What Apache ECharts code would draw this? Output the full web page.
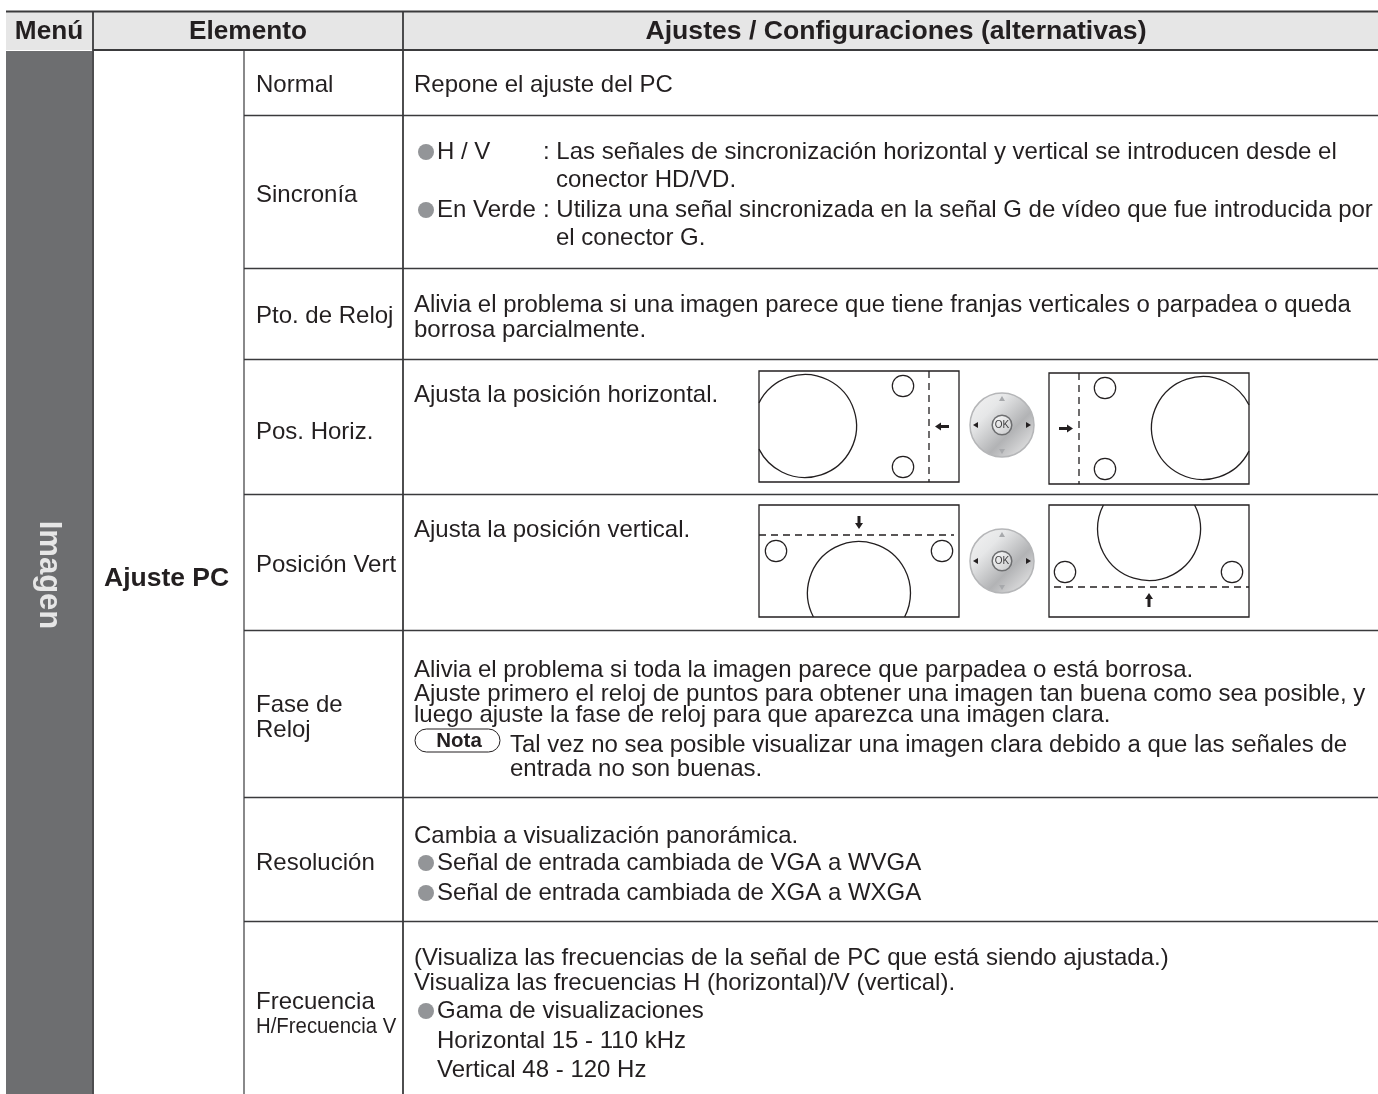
<!DOCTYPE html>
<html><head><meta charset="utf-8">
<style>html,body{margin:0;padding:0;background:#fff}#c{width:1378px;height:1094px}</style>
<script src="https://cdn.jsdelivr.net/npm/echarts@6/dist/echarts.min.js"></script>
</head><body><div id="c"></div>
<script>
const headerLabels = ['Menú', 'Elemento', 'Ajustes / Configuraciones (alternativas)'];
const menuLabel = 'Imagen';
const groupLabel = 'Ajuste PC';
const rowLabels = ['Normal','Sincronía','Pto. de Reloj','Pos. Horiz.','Posición Vert','Fase de','Reloj','Resolución','Frecuencia','H/Frecuencia V'];
const normalText = ['Repone el ajuste del PC'];
const syncText = ['H / V',': Las señales de sincronización horizontal y vertical se introducen desde el','conector HD/VD.','En Verde',': Utiliza una señal sincronizada en la señal G de vídeo que fue introducida por','el conector G.'];
const clockText = ['Alivia el problema si una imagen parece que tiene franjas verticales o parpadea o queda','borrosa parcialmente.'];
const horizText = ['Ajusta la posición horizontal.'];
const vertText = ['Ajusta la posición vertical.'];
const phaseText = ['Alivia el problema si toda la imagen parece que parpadea o está borrosa.','Ajuste primero el reloj de puntos para obtener una imagen tan buena como sea posible, y','luego ajuste la fase de reloj para que aparezca una imagen clara.','Tal vez no sea posible visualizar una imagen clara debido a que las señales de','entrada no son buenas.'];
const noteLabel = 'Nota';
const resText = ['Cambia a visualización panorámica.','Señal de entrada cambiada de VGA a WVGA','Señal de entrada cambiada de XGA a WXGA'];
const freqText = ['(Visualiza las frecuencias de la señal de PC que está siendo ajustada.)','Visualiza las frecuencias H (horizontal)/V (vertical).','Gama de visualizaciones','Horizontal 15 - 110 kHz','Vertical 48 - 120 Hz'];
const okLabel = 'OK';

const INK='#231f20', LINE='#3a3a3c', FONT='"Liberation Sans", Arial, sans-serif';
const g=[];
function T(s,x,y,o={}){g.push({type:'text',z:o.z||5,x,y:y+(o.dy===undefined?1:o.dy),rotation:o.rot||0,style:{text:s,fill:o.fill||INK,
  font:(o.bold?'bold ':'')+(o.size||24)+'px '+FONT,textAlign:o.align||'left',textVerticalAlign:'middle',textBaseline:'middle'}});}
function R(x,y,w,h,fill,z){g.push({type:'rect',z:z||1,shape:{x,y,width:w,height:h},style:{fill}});}
function L(x1,y1,x2,y2,o={}){g.push({type:'line',z:o.z||3,shape:{x1,y1,x2,y2},style:{stroke:o.c||LINE,lineWidth:o.w||1.5,lineDash:o.dash||null}});}
function C(cx,cy,r,o={}){g.push({type:'circle',z:o.z||4,shape:{cx,cy,r},style:{fill:o.fill||'transparent',stroke:o.stroke||null,lineWidth:o.w||1.2}});}
function Arc(cx,cy,r,a0,a1){g.push({type:'arc',z:4,shape:{cx,cy,r,startAngle:a0,endAngle:a1,clockwise:true},style:{fill:'none',stroke:INK,lineWidth:1.3}});}
function Poly(pts,fill,z){g.push({type:'polygon',z:z||5,shape:{points:pts},style:{fill}});}
function bullet(y,x){C(x||426,y+1,8,{fill:'#939598'});}

// backgrounds
R(6,12,1372,38,'#e6e6e6');
R(6,51,86,1043,'#6d6e70');
// rules
L(6,11.5,1378,11.5,{w:2});
L(93,50,1378,50,{w:2});
L(93,12,93,1094,{w:1.8});
L(403,12,403,1094,{w:1.8});
L(244,50,244,1094,{w:1.2});
[115,268,359,494,630,797,921].forEach(y=>L(244,y+.5,1378,y+.5,{w:1.4}));

// header
T(headerLabels[0],49,31,{bold:1,size:26.2,align:'center'});
T(headerLabels[1],248,31,{bold:1,size:26.2,align:'center'});
T(headerLabels[2],896,31,{bold:1,size:26.6,align:'center'});
T(menuLabel,49,575,{bold:1,size:31,align:'center',rot:-Math.PI/2,fill:'#e6e6e6',dy:0});
T(groupLabel,104,578,{bold:1,size:26.5});

// row labels
const ly=[84,194,315,431,564,704,729,862,1001];
ly.forEach((y,i)=>T(rowLabels[i],256,y));
g.push({type:'text',z:5,x:256,y:1027,scaleX:.925,style:{text:rowLabels[9],fill:INK,font:'22px '+FONT,textVerticalAlign:'middle',textBaseline:'middle'}});

// right column
T(normalText[0],414,84);
bullet(151);T(syncText[0],437,151);T(syncText[1],543,151);T(syncText[2],556,179);
bullet(209);T(syncText[3],437,209);T(syncText[4],543,209);T(syncText[5],556,237);
T(clockText[0],414,304,{size:23.95});T(clockText[1],414,329);
T(horizText[0],414,394);T(vertText[0],414,529);
T(phaseText[0],414,669);T(phaseText[1],414,693);T(phaseText[2],414,714);T(phaseText[3],510,744,{size:23.95});T(phaseText[4],510,768);
T(resText[0],414,835);bullet(862);T(resText[1],437,862);bullet(892);T(resText[2],437,892);
T(freqText[0],414,957);T(freqText[1],414,982);bullet(1010);T(freqText[2],437,1010);T(freqText[3],437,1040);T(freqText[4],437,1069);

// note pill
g.push({type:'rect',z:4,shape:{x:415,y:729,width:85,height:23,r:11.5},style:{fill:'#fff',stroke:INK,lineWidth:1}});
T(noteLabel,459,741,{bold:1,size:20.5,align:'center',dy:0});

// diagrams
function box(x,y,w,h){g.push({type:'rect',z:3,shape:{x,y,width:w,height:h},style:{fill:'none',stroke:INK,lineWidth:1.3}});}
const BR=51.5, SR=10.7, DASH=[7,5];
box(759,371,200,111);
let a=Math.acos(46/BR);Arc(805,426,BR,Math.PI+a,Math.PI-a+2*Math.PI);
C(903,386,SR,{stroke:INK});C(903,467,SR,{stroke:INK});
L(929,371,929,482,{c:INK,w:1.3,dash:DASH});
Poly([[935,426.5],[941,422.5],[941,425],[949,425],[949,428],[941,428],[941,430.5]],INK);

box(1049,373,200,111);
a=Math.acos(46/BR);Arc(1203,428,BR,a,2*Math.PI-a);
C(1105,388,SR,{stroke:INK});C(1105,469,SR,{stroke:INK});
L(1079,373,1079,484,{c:INK,w:1.3,dash:DASH});
Poly([[1073,428.5],[1067,424.5],[1067,427],[1059,427],[1059,430],[1067,430],[1067,432.5]],INK);

box(759,505,200,112);
L(759,535,954,535,{c:INK,w:1.3,dash:DASH});
a=Math.asin(24/BR);Arc(859,593,BR,Math.PI-a,2*Math.PI+a);
C(776,551,SR,{stroke:INK});C(942,551,SR,{stroke:INK});
Poly([[859,529],[855,523],[857.5,523],[857.5,516],[860.5,516],[860.5,523],[863,523]],INK);

box(1049,505,200,112);
L(1054,587,1249,587,{c:INK,w:1.3,dash:DASH});
a=Math.asin(24/BR);Arc(1149,529,BR,-a,Math.PI+a);
C(1065,572,SR,{stroke:INK});C(1232,572,SR,{stroke:INK});
Poly([[1149,593],[1145,599],[1147.5,599],[1147.5,607],[1150.5,607],[1150.5,599],[1153,599]],INK);

// remote buttons
function remote(cx,cy){
  g.push({type:'circle',z:4,shape:{cx,cy,r:32},style:{stroke:'#b5b6b8',lineWidth:1.5,
    fill:{type:'linear',x:0,y:0,x2:1,y2:1,colorStops:[{offset:0,color:'#f4f4f4'},{offset:.3,color:'#e6e7e8'},{offset:.62,color:'#b2b3b5'},{offset:1,color:'#f2f2f2'}]}}});
  g.push({type:'circle',z:5,shape:{cx,cy,r:9.8},style:{stroke:'#6d6e70',lineWidth:1.5,
    fill:{type:'linear',x:0,y:0,x2:1,y2:1,colorStops:[{offset:0,color:'#fff'},{offset:1,color:'#c4c5c7'}]}}});
  T(okLabel,cx,cy,{size:10,align:'center',z:6,fill:'#414042',dy:0});
  Poly([[cx-29,cy],[cx-24,cy-3],[cx-24,cy+3]],INK);
  Poly([[cx+29,cy],[cx+24,cy-3],[cx+24,cy+3]],INK);
  Poly([[cx,cy-29],[cx-3,cy-24],[cx+3,cy-24]],'#a7a9ac');
  Poly([[cx,cy+29],[cx-3,cy+24],[cx+3,cy+24]],'#a7a9ac');
}
remote(1002,425);remote(1002,561);

const chart=echarts.init(document.getElementById('c'),null,{renderer:'canvas'});
chart.setOption({animation:false,backgroundColor:'#fff',graphic:{elements:g}});
</script></body></html>
